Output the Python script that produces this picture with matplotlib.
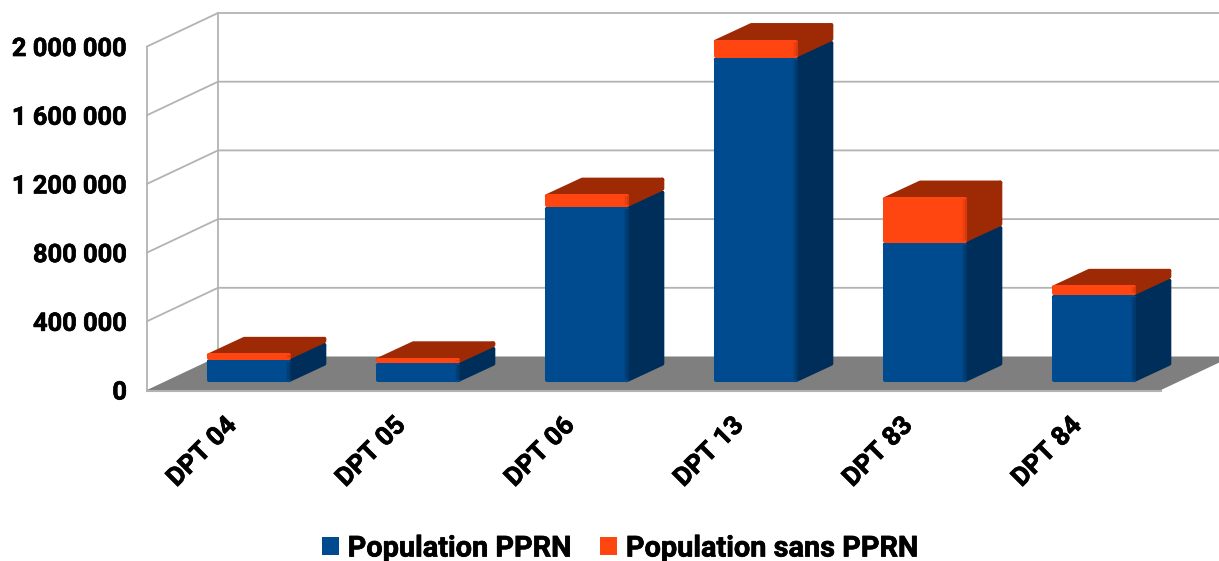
import matplotlib
matplotlib.use("Agg")
import matplotlib.pyplot as plt
from matplotlib.patches import Polygon, Patch
import matplotlib.patheffects as pe

categories = ["DPT 04", "DPT 05", "DPT 06", "DPT 13", "DPT 83", "DPT 84"]
population_pprn = [132000, 109000, 1019000, 1890000, 813000, 506000]
population_sans_pprn = [36000, 33000, 76000, 105000, 265000, 58000]
y_ticks = [0, 400000, 800000, 1200000, 1600000, 2000000]
y_labels = ["0", "400 000", "800 000", "1 200 000", "1 600 000", "2 000 000"]

BLUE, BLUE_SIDE = "#004a8f", "#002e5a"
BLUE_EDGES = ["#004684", "#003f78", "#00386b"]
ORANGE, ORANGE_TOP = "#ff4510", "#9e2a05"
ORANGE_EDGES = ["#f8430f", "#ec3f0e", "#d8390c"]
GRID, FLOOR = "#b3b3b3", "#7f7f7f"

W, H = 1219, 561
PX_X = 169.0           # pixels per category
PX_Y = 2000000 / 343.5 # value per pixel
X0, Y0 = 248.8, 390.0  # pixel position of category 0 / value 0 on the front plane

fig = plt.figure(figsize=(W / 100, H / 100), dpi=100)
plt.rcParams["font.family"] = ["Roboto", "DejaVu Sans"]
ax = fig.add_axes([0, 0, 1, 1])
ax.set_xlim(-X0 / PX_X, (W - X0) / PX_X)
ax.set_ylim(-(H - Y0) * PX_Y, Y0 * PX_Y)
ax.axis("off")

dx_px = lambda p: p / PX_X
dy_px = lambda p: p * PX_Y
heavy = [pe.withStroke(linewidth=0.5, foreground="black")]

# depth of the chart box and of the bars
box_dx, box_dy = dx_px(71), dy_px(33.5)
left = dx_px(-101.8)
right = left + len(categories)
bar_off_y = dy_px(7.8)
bar_w = dx_px(84)
bar_dx, bar_dy = dx_px(35.5), dy_px(16.5)
inset_x, inset_y = dx_px(2), dy_px(2)

# floor
ax.add_patch(Polygon([(left, 0), (left + box_dx, box_dy), (right + box_dx, box_dy), (right, 0)],
                     closed=True, fc=FLOOR, ec="none", zorder=1))
ax.plot([left, right], [-dy_px(0.5)] * 2, color=GRID, lw=1.5, zorder=1.5)

# walls and gridlines
for t in y_ticks:
    if t > 0:
        ax.plot([left, left + box_dx, right + box_dx], [t, t + box_dy, t + box_dy],
                color=GRID, lw=1.3, zorder=0.5)
ax.plot([left, left], [0, y_ticks[-1]], color=GRID, lw=1.3, zorder=0.5)
ax.plot([left + box_dx] * 2, [box_dy, y_ticks[-1] + box_dy], color=GRID, lw=1.3, zorder=0.5)

# y tick labels
for t, s in zip(y_ticks, y_labels):
    ax.text(left - dx_px(20), t - dy_px(2.5), s, ha="right", va="center",
            fontsize=18.3, fontweight="bold", color="black", zorder=5, path_effects=heavy)


def face(pts, color, z):
    ax.add_patch(Polygon(pts, closed=True, fc=color, ec=color, lw=2.9,
                         joinstyle="round", zorder=z))


def block(x, y0, y1, front, side, top, edges, z):
    xl, xr = x - bar_w / 2 + inset_x, x + bar_w / 2 - inset_x
    yb, yt = y0 + inset_y, y1 - inset_y
    if yt < yb:
        yb = yt = (y0 + y1) / 2
    face([(xr, yb), (xr + bar_dx, yb + bar_dy), (xr + bar_dx, yt + bar_dy), (xr, yt)], side, z)
    face([(xl, yt), (xl + bar_dx, yt + bar_dy), (xr + bar_dx, yt + bar_dy), (xr, yt)], top, z)
    face([(xl, yb), (xr, yb), (xr, yt), (xl, yt)], front, z + 0.1)
    # soft shading at the right edge of the front face
    for k, e in enumerate(edges):
        ax.fill_between([xr - dx_px(3 - 1.6 * k), xr - dx_px(1.4 - 1.6 * k)], yb, yt,
                        color=e, lw=0, zorder=z + 0.2)


for i, (a, b) in enumerate(zip(population_pprn, population_sans_pprn)):
    base = bar_off_y
    block(i, base, base + a, BLUE, BLUE_SIDE, BLUE_SIDE, BLUE_EDGES, 2 + i)
    block(i, base + a, base + a + b, ORANGE, ORANGE_TOP, ORANGE_TOP, ORANGE_EDGES, 2.5 + i)

# category labels
for i, c in enumerate(categories):
    ax.text(i - dx_px(24.5), -dy_px(23), c, rotation=45, rotation_mode="anchor",
            ha="right", va="top", fontsize=18.8, fontweight="bold", color="black", zorder=5,
            path_effects=heavy)

handles = [Patch(fc=BLUE, label="Population PPRN"), Patch(fc=ORANGE, label="Population sans PPRN")]
leg = fig.legend(handles=handles, loc="center", ncol=2, frameon=False,
                 bbox_to_anchor=(620.5 / W, 12.5 / H), prop={"size": 20.8, "weight": "bold"},
                 handlelength=0.59, handleheight=0.59, handletextpad=0.3, columnspacing=0.97,
                 borderpad=0, borderaxespad=0)
for t in leg.get_texts():
    t.set_path_effects(heavy)

fig.savefig("out.png", dpi=100)
